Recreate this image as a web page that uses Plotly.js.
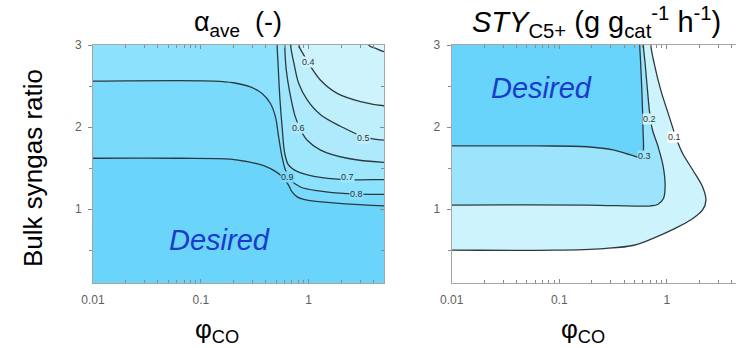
<!DOCTYPE html>
<html>
<head>
<meta charset="utf-8">
<script src="https://cdn.plot.ly/plotly-3.0.1.min.js"></script>
<style>
  html, body { margin: 0; padding: 0; overflow: hidden; background: #ffffff; }
  #chart { width: 744px; height: 348px; }
</style>
</head>
<body>
<div id="chart"></div>
<script>
// ---------- α_ave contour lines: φ_CO (x) vs bulk syngas ratio (y) ----------
const alphaLevels = [0.3, 0.4, 0.5, 0.6, 0.7, 0.8, 0.9];

const phiAlpha03   = [3.6, 4.2, 5];
const ratioAlpha03 = [3.0, 2.96, 2.92];

const phiAlpha04   = [0.81, 0.90, 1.04, 1.29, 1.84, 3.03, 5];
const ratioAlpha04 = [3.0, 2.88, 2.74, 2.57, 2.41, 2.31, 2.26];

const phiAlpha05   = [0.68, 0.73, 0.81, 0.97, 1.29, 1.98, 3.26, 5];
const ratioAlpha05 = [3.0, 2.78, 2.53, 2.33, 2.15, 2.01, 1.88, 1.84];

const phiAlpha06   = [0.60, 0.62, 0.68, 0.75, 0.84, 0.97, 1.29, 2.28, 5];
const ratioAlpha06 = [3.0, 2.70, 2.37, 2.13, 1.97, 1.84, 1.72, 1.62, 1.57];

const phiAlpha07   = [0.51, 0.52, 0.54, 0.57, 0.60, 0.65, 0.78, 1.12, 2.28, 5];
const ratioAlpha07 = [3.0, 2.78, 2.37, 1.97, 1.68, 1.54, 1.46, 1.40, 1.36, 1.36];

const phiAlpha08   = [0.01, 0.131, 0.201, 0.288, 0.370, 0.441, 0.491, 0.527, 0.566, 0.608, 0.678, 0.839, 1.29, 2.28, 5];
const ratioAlpha08 = [2.56, 2.56, 2.54, 2.49, 2.41, 2.29, 2.13, 1.88, 1.64, 1.48, 1.36, 1.27, 1.22, 1.19, 1.18];

const phiAlpha09   = [0.01, 0.064, 0.188, 0.268, 0.383, 0.491, 0.587, 0.653, 0.702, 0.782, 0.968, 1.59, 5];
const ratioAlpha09 = [1.62, 1.62, 1.61, 1.58, 1.53, 1.46, 1.38, 1.29, 1.21, 1.15, 1.11, 1.08, 1.04];

// label placement along the α_ave lines (levels 0.4 … 0.9)
const alphaLabelLevel = [0.4, 0.5, 0.6, 0.7, 0.8, 0.9];
const alphaLabelPhi   = [1.0, 3.26, 0.80, 2.28, 2.8, 0.63];
const alphaLabelRatio = [2.79, 1.87, 1.985, 1.395, 1.19, 1.395];

// ---------- STY_C5+ contour lines ----------
const styLevels = [0.1, 0.2, 0.3];

const phiSty01   = [0.710, 0.762, 0.879, 1.051, 1.213, 1.400, 1.737, 2.153, 2.311, 2.153, 1.675, 1.170, 0.762, 0.495, 0.260, 0.0889, 0.01];
const ratioSty01 = [3.0, 2.78, 2.45, 2.13, 1.88, 1.68, 1.48, 1.27, 1.11, 0.99, 0.87, 0.76, 0.65, 0.56, 0.52, 0.50, 0.50];

const phiSty02   = [0.605, 0.628, 0.661, 0.693, 0.734, 0.830, 0.925, 0.964, 0.931, 0.830, 0.710, 0.182, 0.01];
const ratioSty02 = [3.0, 2.78, 2.45, 2.17, 1.97, 1.76, 1.52, 1.27, 1.13, 1.06, 1.04, 1.05, 1.05];

const phiSty03   = [0.560, 0.571, 0.589, 0.601, 0.601, 0.571, 0.461, 0.323, 0.182, 0.0621, 0.01];
const ratioSty03 = [3.0, 2.78, 2.37, 1.97, 1.68, 1.63, 1.66, 1.72, 1.76, 1.77, 1.77];

const styLabelLevel = [0.1, 0.2, 0.3];
const styLabelPhi   = [1.19, 0.686, 0.626];
const styLabelRatio = [1.876, 2.095, 1.648];

// axis tick labels
const xTickVals = [0.01, 0.1, 1];
const xTickText = ['0.01', '0.1', '1'];
const yTickVals = [1, 2, 3];
const yTickText = ['1', '2', '3'];

// ---------- styling ----------
const X_MIN = 0.01, X_MAX = 5, Y_MIN = 0.1, Y_MAX = 3;
const FONT = 'Liberation Sans, Arial, sans-serif';
const LINE_COLOR = '#2c3a3f';
const FRAME = '#a6a6a6';
const TICK_FONT = { family: FONT, size: 12, color: '#5f5f5f' };

const alphaBg = '#ddf7fe';
const alphaFill = ['#cff3fd', '#c0effc', '#afeafc', '#9ee6fc', '#8ce1fc', '#7adafb', '#6bd4fb'];
const styBg = '#ffffff';
const styFill = ['#cdf4fd', '#9be4fb', '#68d3fb'];

const W = 744, H = 348;
const plotTop = 45, plotBottom = 283;
const leftX0 = 93, leftX1 = 384, rightX0 = 451.7, rightX1 = 742;

// points just beyond the axis range, used to close filled regions
const xOutL = X_MIN / 2, xOutR = X_MAX * 2, yOutT = Y_MAX + 0.4, yOutB = Y_MIN - 0.4;

function pushOut(x, y) {
  if (x <= X_MIN) return [xOutL, y];
  if (x >= X_MAX) return [xOutR, y];
  if (y >= Y_MAX) return [x, yOutT];
  return [x, yOutB];
}

// filled region bounded by one contour line, closed around the higher-valued side
function region(xs, ys, corners, fill, xa, ya) {
  const s = pushOut(xs[0], ys[0]);
  const e = pushOut(xs[xs.length - 1], ys[ys.length - 1]);
  const px = [s[0]].concat(xs, [e[0]], corners.map(c => c[0]));
  const py = [s[1]].concat(ys, [e[1]], corners.map(c => c[1]));
  return {
    type: 'scatter', mode: 'lines', x: px, y: py, xaxis: xa, yaxis: ya,
    fill: 'toself', fillcolor: fill,
    line: { color: LINE_COLOR, width: 1.3, shape: 'spline', smoothing: 1 },
    hoverinfo: 'skip', showlegend: false
  };
}

const alphaLines = [
  [phiAlpha03, ratioAlpha03], [phiAlpha04, ratioAlpha04], [phiAlpha05, ratioAlpha05],
  [phiAlpha06, ratioAlpha06], [phiAlpha07, ratioAlpha07], [phiAlpha08, ratioAlpha08],
  [phiAlpha09, ratioAlpha09]
];
const styLines = [[phiSty01, ratioSty01], [phiSty02, ratioSty02], [phiSty03, ratioSty03]];

const traces = [];
alphaLines.forEach((ln, i) => {
  const startsTop = ln[1][0] >= Y_MAX;
  const corners = [[xOutR, yOutB], [xOutL, yOutB]];
  if (startsTop) corners.push([xOutL, yOutT]);
  traces.push(region(ln[0], ln[1], corners, alphaFill[i], 'x', 'y'));
});
styLines.forEach((ln, i) => {
  traces.push(region(ln[0], ln[1], [[xOutL, yOutT]], styFill[i], 'x2', 'y2'));
});
// right-hand tick axis of the left panel
traces.push({ type: 'scatter', x: [], y: [], xaxis: 'x', yaxis: 'y3', showlegend: false, hoverinfo: 'skip' });

// ---------- axes ----------
function minorLog() {
  const v = [];
  [0.01, 0.1, 1].forEach(d => { for (let k = 2; k <= 9; k++) if (d * k <= X_MAX) v.push(d * k); });
  return v;
}
function xAxis(domain) {
  return {
    type: 'log', domain: domain, range: [Math.log10(X_MIN), Math.log10(X_MAX)],
    tickmode: 'array', tickvals: xTickVals, ticktext: xTickText,
    ticks: 'inside', ticklen: 4, tickwidth: 1, tickcolor: '#8a8a8a',
    minor: { tickmode: 'array', tickvals: minorLog(), ticks: 'inside', ticklen: 3, tickwidth: 1, tickcolor: '#8a8a8a', showgrid: false },
    showline: true, linecolor: FRAME, linewidth: 1, mirror: 'ticks',
    showgrid: false, zeroline: false, tickfont: TICK_FONT, ticklabelstandoff: 6
  };
}
function yAxis(anchor, extra) {
  return Object.assign({
    anchor: anchor, domain: [1 - plotBottom / H, 1 - plotTop / H], range: [Y_MIN, Y_MAX],
    tickmode: 'array', tickvals: yTickVals, ticktext: yTickText,
    ticks: 'outside', ticklen: 4, tickwidth: 1, tickcolor: '#8a8a8a',
    minor: { tickmode: 'array', tickvals: [0.5, 1.5, 2.5], ticks: 'outside', ticklen: 3, tickwidth: 1, tickcolor: '#8a8a8a', showgrid: false },
    showline: true, linecolor: FRAME, linewidth: 1,
    showgrid: false, zeroline: false, tickfont: TICK_FONT, ticklabelstandoff: 4
  }, extra || {});
}

const annotations = [];
const P = (px, py) => ({ x: px / W, y: 1 - py / H });

function paperText(px, py, text, size, extra) {
  const p = P(px, py);
  annotations.push(Object.assign({
    xref: 'paper', yref: 'paper', x: p.x, y: p.y, xanchor: 'center', yanchor: 'middle',
    text: text, showarrow: false, font: { family: FONT, size: size, color: '#000000' }
  }, extra || {}));
}

// panel titles, axis titles
paperText(238, 24, 'α<sub>ave</sub>  (-)', 27);
paperText(596, 22, '<i>STY</i><sub>C5+</sub> (g g<sub>cat</sub><sup>-1</sup> h<sup>-1</sup>)', 29);
paperText(33, 168, 'Bulk syngas ratio', 26, { textangle: -90 });
paperText(217, 330, 'φ<sub>CO</sub>', 26);
paperText(583, 330, 'φ<sub>CO</sub>', 26);

// "Desired" region markers
annotations.push({ xref: 'x', yref: 'y', x: Math.log10(0.15), y: 0.63, text: '<i>Desired</i>', showarrow: false,
  font: { family: FONT, size: 29, color: '#1a3ccc' } });
annotations.push({ xref: 'x2', yref: 'y2', x: Math.log10(0.068), y: 2.48, text: '<i>Desired</i>', showarrow: false,
  font: { family: FONT, size: 29, color: '#1a3ccc' } });

// contour level labels, on the colour of the lower-valued side of each line
alphaLabelLevel.forEach((lv, i) => {
  const idx = alphaLevels.indexOf(lv);
  annotations.push({ xref: 'x', yref: 'y', x: Math.log10(alphaLabelPhi[i]), y: alphaLabelRatio[i],
    text: lv.toFixed(1), showarrow: false, bgcolor: idx > 0 ? alphaFill[idx - 1] : alphaBg, borderpad: 0,
    font: { family: FONT, size: 9, color: '#333333' } });
});
styLabelLevel.forEach((lv, i) => {
  const idx = styLevels.indexOf(lv);
  annotations.push({ xref: 'x2', yref: 'y2', x: Math.log10(styLabelPhi[i]), y: styLabelRatio[i],
    text: lv.toFixed(1), showarrow: false, bgcolor: idx > 0 ? styFill[idx - 1] : styBg, borderpad: 0,
    font: { family: FONT, size: 9, color: '#333333' } });
});

const layout = {
  width: W, height: H,
  margin: { l: 0, r: 0, t: 0, b: 0, pad: 0 },
  paper_bgcolor: '#ffffff', plot_bgcolor: 'rgba(0,0,0,0)',
  showlegend: false,
  xaxis: xAxis([leftX0 / W, leftX1 / W]),
  xaxis2: xAxis([rightX0 / W, rightX1 / W]),
  yaxis: yAxis('x'),
  yaxis2: yAxis('x2', { mirror: 'ticks' }),
  yaxis3: yAxis('x', {
    overlaying: 'y', side: 'right', ticks: 'inside', showticklabels: false,
    minor: { tickmode: 'array', tickvals: [0.5, 1.5, 2.5], ticks: 'inside', ticklen: 3, tickwidth: 1, tickcolor: '#8a8a8a', showgrid: false }
  }),
  shapes: [{
    type: 'rect', xref: 'x domain', yref: 'y domain', x0: 0, x1: 1, y0: 0, y1: 1,
    fillcolor: alphaBg, line: { width: 0 }, layer: 'below'
  }],
  annotations: annotations
};

Plotly.newPlot('chart', traces, layout, { staticPlot: true, displayModeBar: false });
</script>
</body>
</html>
